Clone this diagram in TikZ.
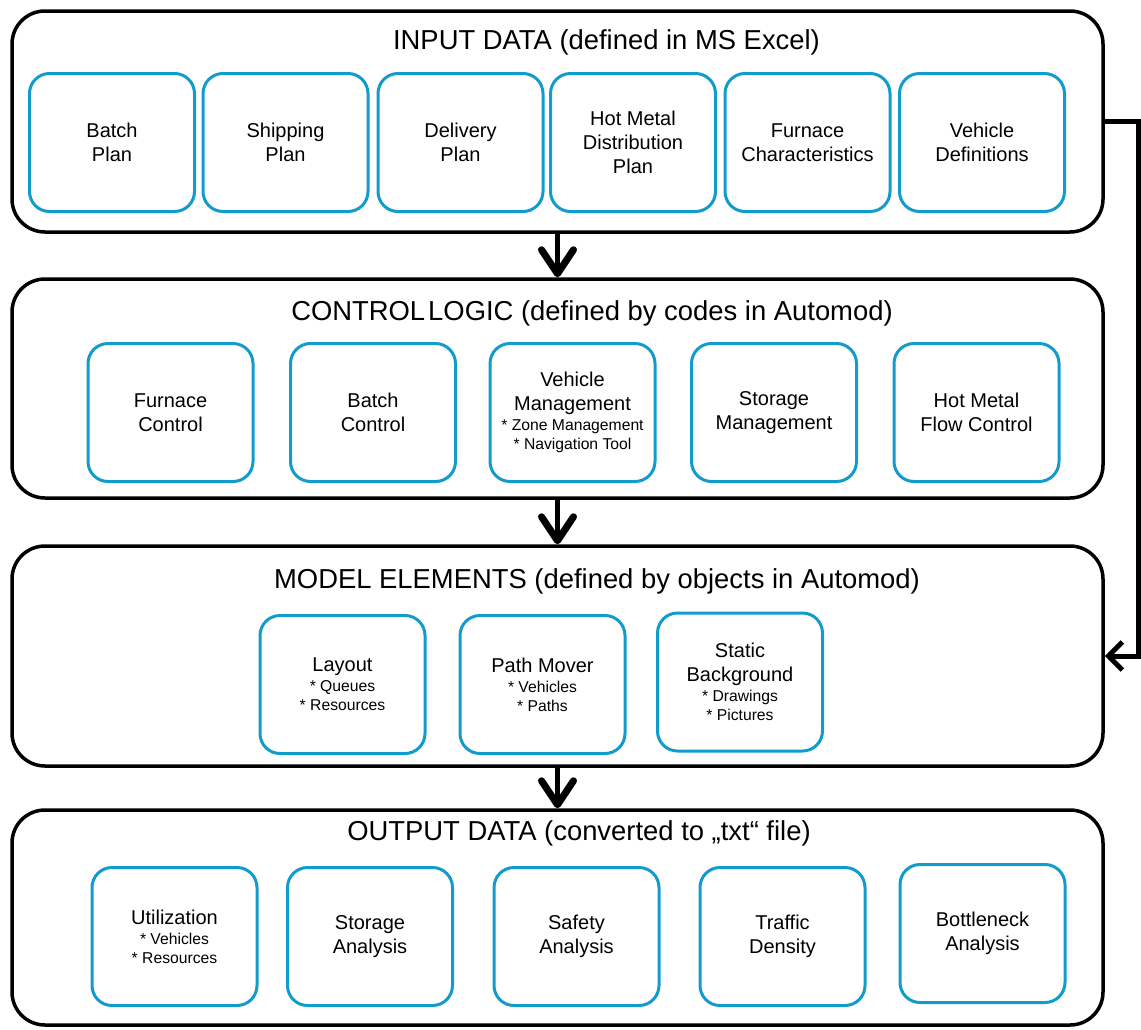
\documentclass[tikz,border=0pt]{standalone}
\usepackage{fontspec}
\setmainfont{Liberation Sans}
\usetikzlibrary{arrows.meta}
\definecolor{itemblue}{RGB}{18,155,205}
\newcommand{\lblfont}{\fontsize{20}{24}\selectfont}
\newcommand{\subfont}{\fontsize{15.7}{19}\selectfont}
\newcommand{\ttlfont}{\fontsize{27.4}{30}\selectfont}
\begin{document}
\begin{tikzpicture}[x=1pt,y=-1pt,
  panel/.style={draw=black, line width=3.5pt, rounded corners=33pt,
    minimum width=1091pt, minimum height=#1, inner sep=0pt},
  itembox/.style={draw=itemblue, line width=3pt, rounded corners=20pt,
    minimum width=165pt, minimum height=138pt, align=center,
    font=\lblfont, inner sep=0pt},
  ttl/.style={font=\ttlfont, inner sep=0pt},
  flow/.style={line width=5pt,
    -{Straight Barb[length=24pt,width=32pt,line width=7pt,round]}},
  back/.style={line width=5pt, line join=miter,
    -{Straight Barb[length=14pt,width=28pt,line width=5pt]}}]
\useasboundingbox (0,0) rectangle (1141,1029);

% four stage panels
\node[panel=221pt] (p1) at (557.5,121.5) {};
\node[panel=219pt] (p2) at (557.5,388.5) {};
\node[panel=220pt] (p3) at (557.5,656) {};
\node[panel=215pt] (p4) at (557.5,917.5) {};

% panel headings
\node[ttl] (t1) at (606.5,42) {INPUT DATA (defined in MS Excel)};
\node[ttl] (t2) at (592,313) {CONTROL\hspace{3pt}LOGIC (defined by codes in Automod)};
\node[ttl] (t3) at (597,581) {MODEL ELEMENTS (defined by objects in Automod)};
\node[ttl] (t4) at (579,833) {OUTPUT DATA (converted to „txt“ file)};

% input data
\node[itembox] (a1) at (112,142.5) {Batch\\Plan};
\node[itembox] (a2) at (285.5,142.5) {Shipping\\Plan};
\node[itembox] (a3) at (460.5,142.5) {Delivery\\Plan};
\node[itembox] (a4) at (633,142.5) {Hot Metal\\Distribution\\Plan};
\node[itembox] (a5) at (807.5,142.5) {Furnace\\Characteristics};
\node[itembox] (a6) at (982,142.5) {Vehicle\\Definitions};

% control logic
\node[itembox] (b1) at (170.5,412.5) {Furnace\\Control};
\node[itembox] (b2) at (373,412.5) {Batch\\Control};
\node[itembox] (b3) at (572.5,412.5) {Vehicle\\Management\\[-4pt]
  {\subfont * Zone Management}\\[-5pt]{\subfont * Navigation Tool}};
\node[itembox] (b4) at (774,412.5) {Storage\\Management};
\node[itembox] (b5) at (976.5,412.5) {Hot Metal\\Flow Control};

% model elements
\node[itembox] (c1) at (342.5,684.5) {Layout\\[-4pt]
  {\subfont * Queues}\\[-5pt]{\subfont * Resources}};
\node[itembox] (c2) at (542.5,684.5) {Path Mover\\[-4pt]
  {\subfont * Vehicles}\\[-5pt]{\subfont * Paths}};
\node[itembox] (c3) at (740,682) {Static\\Background\\[-4pt]
  {\subfont * Drawings}\\[-5pt]{\subfont * Pictures}};

% output data
\node[itembox] (d1) at (174.5,936.5) {Utilization\\[-4pt]
  {\subfont * Vehicles}\\[-5pt]{\subfont * Resources}};
\node[itembox] (d2) at (370,936.5) {Storage\\Analysis};
\node[itembox] (d3) at (576.5,936.5) {Safety\\Analysis};
\node[itembox] (d4) at (782.5,936.5) {Traffic\\Density};
\node[itembox] (d5) at (982.5,933.5) {Bottleneck\\Analysis};

% flow between stages
\draw[flow] (p1.south) -- (p2.north);
\draw[flow] (p2.south) -- (p3.north);
\draw[flow] (p3.south) -- (p4.north);

% input data also feeds the model elements directly
\coordinate (bend) at (1138,121.5);
\draw[back] (p1.east) -- (bend) |- (p3.east);
\end{tikzpicture}
\end{document}
